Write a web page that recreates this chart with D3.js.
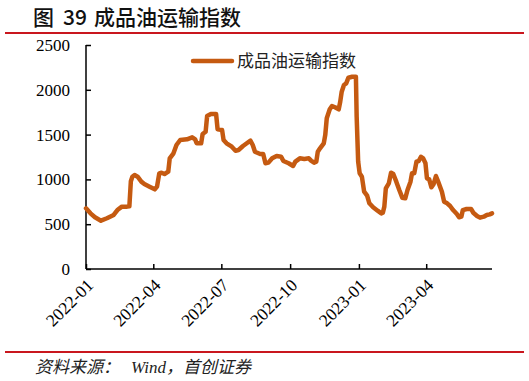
<!DOCTYPE html>
<html><head><meta charset="utf-8">
<script src="https://cdn.jsdelivr.net/npm/d3@7"></script>
<style>html,body{margin:0;padding:0;background:#fff;}svg{display:block;}</style>
</head><body>
<svg id="c" width="529" height="381"></svg>
<script>
const titleParts = ["图", "39", "成品油运输指数"];
const seriesName = "成品油运输指数";
const sourceParts = ["资料来源：", "Wind，首创证券"];
const yTicks = [0, 500, 1000, 1500, 2000, 2500];
const xTickLabels = ["2022-01", "2022-04", "2022-07", "2022-10", "2023-01", "2023-04"];
const dates = [
"2022-01-01","2022-01-07","2022-01-13","2022-01-21","2022-01-29","2022-02-07","2022-02-12","2022-02-18","2022-02-25","2022-02-28",
"2022-03-02","2022-03-04","2022-03-07","2022-03-11","2022-03-16","2022-03-20","2022-03-27","2022-04-03","2022-04-06","2022-04-09",
"2022-04-12","2022-04-16","2022-04-21","2022-04-23","2022-04-28","2022-05-02","2022-05-07","2022-05-16","2022-05-23","2022-05-27",
"2022-05-29","2022-06-04","2022-06-06","2022-06-10","2022-06-12","2022-06-17","2022-06-24","2022-06-26","2022-07-02","2022-07-04",
"2022-07-08","2022-07-15","2022-07-20","2022-07-24","2022-07-30","2022-08-04","2022-08-09","2022-08-12","2022-08-15","2022-08-22",
"2022-08-26","2022-08-29","2022-09-02","2022-09-07","2022-09-13","2022-09-19","2022-09-22","2022-09-29","2022-10-05","2022-10-08",
"2022-10-14","2022-10-20","2022-10-26","2022-10-29","2022-11-02","2022-11-05","2022-11-07","2022-11-10","2022-11-15","2022-11-17",
"2022-11-19","2022-11-23","2022-11-26","2022-11-30","2022-12-05","2022-12-07","2022-12-09","2022-12-12","2022-12-15","2022-12-18",
"2022-12-23","2022-12-28","2022-12-29","2022-12-31","2023-01-02","2023-01-05","2023-01-08","2023-01-12","2023-01-15","2023-01-20",
"2023-01-26","2023-01-31","2023-02-02","2023-02-04","2023-02-06","2023-02-10","2023-02-13","2023-02-16","2023-02-20","2023-02-24",
"2023-02-28","2023-03-04","2023-03-07","2023-03-11","2023-03-13","2023-03-16","2023-03-19","2023-03-22","2023-03-25","2023-03-28",
"2023-03-31","2023-04-02","2023-04-05","2023-04-08","2023-04-11","2023-04-14","2023-04-17","2023-04-22","2023-04-25","2023-04-29",
"2023-05-03","2023-05-07","2023-05-12","2023-05-15","2023-05-18","2023-05-20","2023-05-25","2023-05-31","2023-06-03","2023-06-08",
"2023-06-12","2023-06-17","2023-06-21","2023-06-25","2023-06-28"
];
const values = [
677,621,577,539,566,603,658,696,696,700,
980,1030,1049,1030,975,949,919,889,919,1068,
1075,1060,1086,1235,1291,1384,1440,1447,1470,1447,
1403,1403,1507,1532,1708,1730,1730,1559,1551,1440,
1403,1365,1320,1328,1373,1403,1432,1384,1309,1283,
1283,1180,1187,1235,1261,1253,1205,1180,1150,1198,
1235,1228,1235,1209,1187,1198,1309,1347,1403,1496,
1682,1782,1819,1805,1782,1867,1979,2054,2072,2135,
2146,2146,1700,1198,1068,1030,863,818,733,689,
651,621,628,696,900,956,1075,1060,975,882,
796,789,882,975,1068,1068,1198,1205,1253,1235,
1180,1012,1001,912,949,1038,975,863,751,733,
703,658,614,577,584,658,670,670,628,592,
573,584,603,610,621
];

const parse = d3.timeParse("%Y-%m-%d");
const data = dates.map((d, i) => ({ date: parse(d), value: values[i] }));
const svg = d3.select("#c");
const serif = "'Liberation Serif','Times New Roman',serif";
const cjk = "'Noto Sans CJK SC','Noto Sans',sans-serif";
const lineColor = "#c55a11";
const red = "#c9171e";

// title
const titleX = [33, 63, 94];
svg.append("g").selectAll("text").data(titleParts).join("text")
  .attr("x", (d, i) => titleX[i]).attr("y", 25)
  .attr("font-family", cjk).attr("font-size", 21).attr("font-weight", 500)
  .attr("fill", "#111").text(d => d);
svg.append("line").attr("x1", 5).attr("x2", 524).attr("y1", 33).attr("y2", 33)
  .attr("stroke", red).attr("stroke-width", 2);

const x = d3.scaleTime()
  .domain([parse("2022-01-01"), parse("2023-06-28")])
  .range([86, 492]);
const y = d3.scaleLinear().domain([0, 2500]).range([269, 45]);

// y axis
const yAxis = svg.append("g").attr("transform", "translate(86,0)")
  .call(d3.axisRight(y).tickValues(yTicks).tickSize(5).tickFormat(""));
yAxis.select(".domain").attr("stroke", "#000").attr("stroke-width", 1.5).attr("d", "M0,45V269");
yAxis.selectAll(".tick line").attr("stroke", "#000").attr("stroke-width", 1.5);
svg.append("g").selectAll("text").data(yTicks).join("text")
  .attr("x", 70).attr("y", d => y(d)).attr("dy", "0.35em")
  .attr("text-anchor", "end").attr("font-family", serif).attr("font-size", 17)
  .attr("fill", "#000").text(d => d);

// x axis
const tickDates = xTickLabels.map(s => parse(s + "-01"));
const xAxis = svg.append("g").attr("transform", "translate(0,269)")
  .call(d3.axisTop(x).tickValues(tickDates).tickSize(5).tickFormat(""));
xAxis.select(".domain").attr("stroke", "#000").attr("stroke-width", 1.5).attr("d", "M86,0H492");
xAxis.selectAll(".tick line").attr("stroke", "#000").attr("stroke-width", 1.5);
svg.append("g").selectAll("text").data(xTickLabels).join("text")
  .attr("transform", (d, i) => `translate(${x(tickDates[i]) + 4},${282}) rotate(-45)`)
  .attr("text-anchor", "end").attr("dy", "0.35em")
  .attr("font-family", serif).attr("font-size", 17.5).attr("fill", "#000").text(d => d);

// line
const line = d3.line().x(d => x(d.date)).y(d => y(d.value));
svg.append("path").datum(data).attr("d", line)
  .attr("fill", "none").attr("stroke", lineColor).attr("stroke-width", 4.5)
  .attr("stroke-linejoin", "round").attr("stroke-linecap", "round");

// legend
svg.append("line").attr("x1", 193).attr("x2", 232).attr("y1", 61).attr("y2", 61)
  .attr("stroke", lineColor).attr("stroke-width", 4.5).attr("stroke-linecap", "round");
svg.append("text").attr("x", 237).attr("y", 67)
  .attr("font-family", cjk).attr("font-size", 17).attr("fill", "#222").text(seriesName);

// footer
svg.append("line").attr("x1", 5).attr("x2", 524).attr("y1", 352).attr("y2", 352)
  .attr("stroke", red).attr("stroke-width", 2);
const srcX = [35, 131];
svg.append("g").selectAll("text").data(sourceParts).join("text")
  .attr("x", (d, i) => srcX[i]).attr("y", 373)
  .attr("font-family", serif + "," + cjk).attr("font-size", 17).attr("font-style", "italic")
  .attr("fill", "#222").text(d => d);
</script>
</body></html>
